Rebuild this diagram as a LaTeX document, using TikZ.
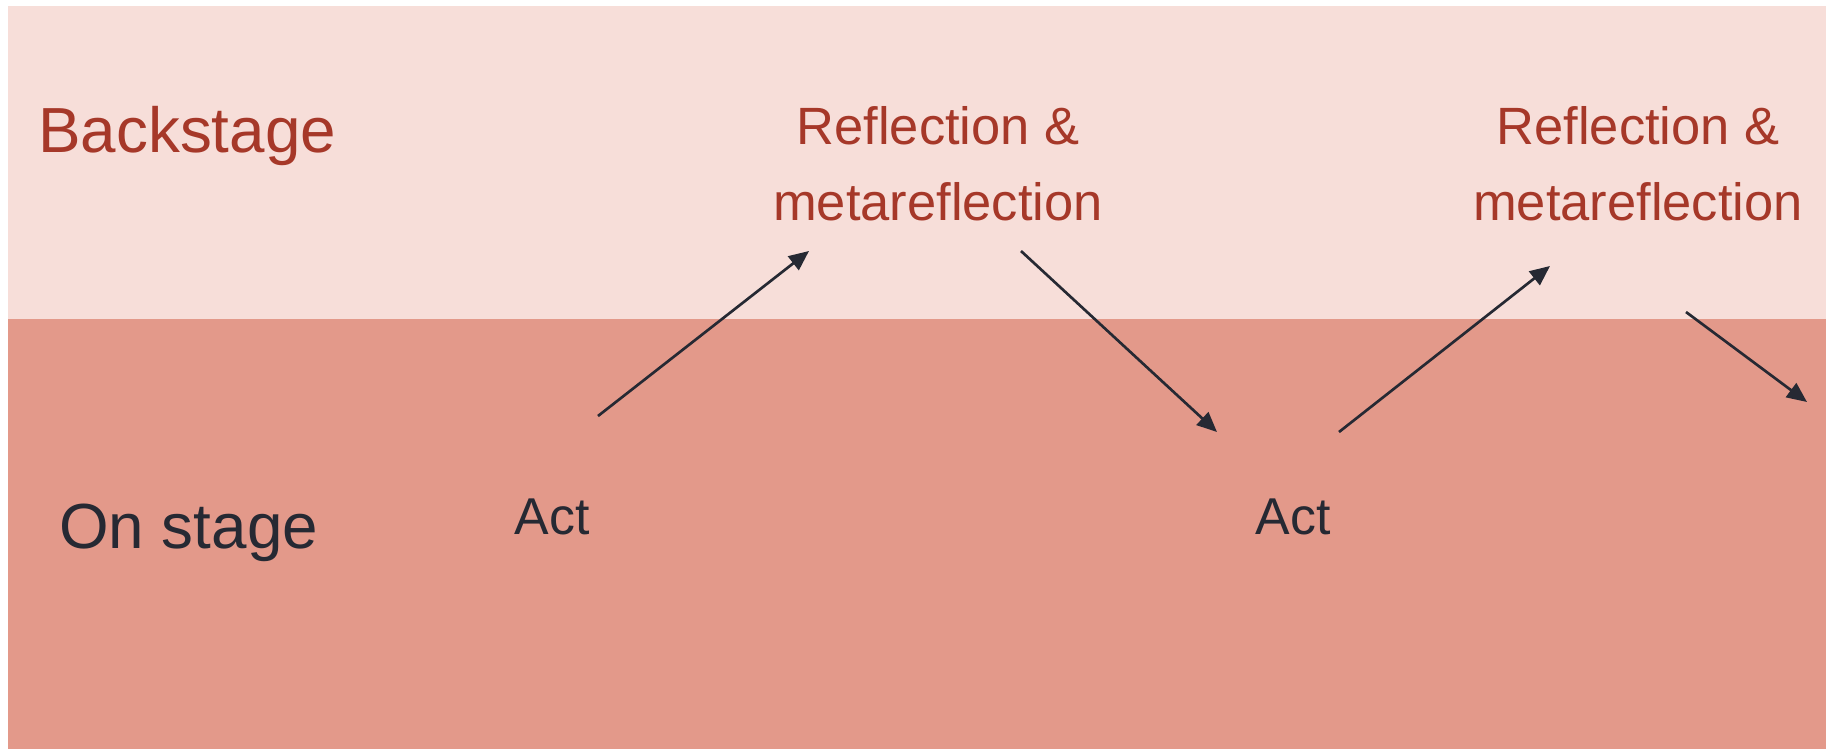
\documentclass[tikz,border=0pt]{standalone}
\usepackage{fontspec}
\setmainfont{Liberation Sans}
\usepackage{tikz}
\usetikzlibrary{arrows.meta}
\usetikzlibrary{positioning}
\tikzset{lbl/.style = {inner sep = 0, anchor = base}}
\tikzset{arr/.style = {mdark, line width = 2bp, -{Triangle[length = 15bp, width = 13bp]}}}
\definecolor{mpink}{rgb}{0.97, 0.87, 0.85}
\definecolor{msalmon}{rgb}{0.89, 0.60, 0.54}
\definecolor{mred}{rgb}{0.65, 0.22, 0.16}
\definecolor{mdark}{rgb}{0.15, 0.16, 0.20}

\begin{document}
\begin{tikzpicture}[x = 0.75bp, y = -0.75bp]
    \useasboundingbox [fill = white] (0, 0) rectangle (1826, 749);
    \fill [mpink] (8, 6) rectangle (1826, 319);
    \fill [msalmon] (8, 319) rectangle (1826, 749);

    \node (back) at (38, 152) [lbl, anchor = base west, mred,
      font = \fontsize{48}{58}\selectfont] {Backstage};
    \node (on) at (59, 548) [lbl, anchor = base west, mdark,
      font = \fontsize{48}{58}\selectfont] {On stage};

    % base is the last line here
    \node (refl1) at (938, 220) [lbl, align = center, mred,
      font = \fontsize{39.5}{57}\selectfont] {Reflection \&\\metareflection};
    \node (refl2) at (1638, 220) [lbl, align = center, mred,
      font = \fontsize{39.5}{57}\selectfont] {Reflection \&\\metareflection};
    \node (act1) at (552, 534) [lbl, mdark, font = \fontsize{39}{47}\selectfont] {Act};
    \node (act2) at (1293, 534) [lbl, mdark, font = \fontsize{39}{47}\selectfont] {Act};

    \coordinate (a1s) at (598, 416);
    \coordinate (a1e) at (809, 251);
    \coordinate (a2s) at (1021, 251);
    \coordinate (a2e) at (1217, 432);
    \coordinate (a3s) at (1339, 432);
    \coordinate (a3e) at (1550, 266);
    \coordinate (a4s) at (1686, 312);
    \coordinate (a4e) at (1807, 402);
    \foreach \n in {1, 2, 3, 4} {
      \draw [arr] (a\n s) -- (a\n e);
    }
  \end{tikzpicture}
\end{document}
